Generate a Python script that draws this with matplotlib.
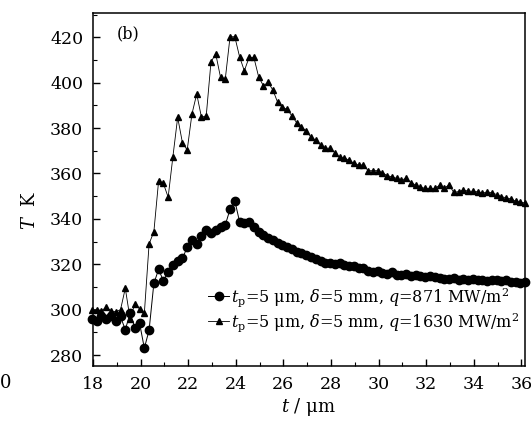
import matplotlib
matplotlib.use("Agg")
import matplotlib.pyplot as plt
from matplotlib.ticker import MultipleLocator

plt.rcParams["font.family"] = ["DejaVu Serif"]
plt.rcParams["mathtext.fontset"] = "dejavuserif"

# time axis shared by both runs
t = [17.96, 18.16, 18.36, 18.56, 18.76, 18.96, 19.16, 19.36, 19.56, 19.76,
     19.96, 20.16, 20.36, 20.56, 20.76, 20.96, 21.16, 21.36, 21.56, 21.76,
     21.96, 22.16, 22.36, 22.56, 22.76, 22.96, 23.16, 23.36, 23.56, 23.76,
     23.96, 24.16, 24.36, 24.56, 24.76, 24.96, 25.16, 25.36, 25.56, 25.76,
     25.96, 26.16, 26.36, 26.56, 26.76, 26.96, 27.16, 27.36, 27.56, 27.76,
     27.96, 28.16, 28.36, 28.56, 28.76, 28.96, 29.16, 29.36, 29.56, 29.76,
     29.96, 30.16, 30.36, 30.56, 30.76, 30.96, 31.16, 31.36, 31.56, 31.76,
     31.96, 32.16, 32.36, 32.56, 32.76, 32.96, 33.16, 33.36, 33.56, 33.76,
     33.96, 34.16, 34.36, 34.56, 34.76, 34.96, 35.16, 35.36, 35.56, 35.76,
     35.96, 36.16]

# q = 871 MW/m2 (circles)
T_871 = [296, 295, 297, 296, 297, 295, 297, 291, 298.6, 292,
         294, 283, 291, 311.6, 317.7, 312.7, 316.7, 319.6, 321.5, 322.6,
         327.4, 330.7, 328.9, 332.4, 335.1, 333.6, 335.1, 336.5, 337.3, 344.2,
         348, 338.7, 338.3, 338.7, 336.5, 334.3, 332.9, 331.5, 330.5, 329.5,
         328.5, 327.5, 326.5, 325.5, 324.8, 324, 323.2, 322.2, 321.3, 320.5,
         320.5, 320.3, 320.5, 319.8, 319.2, 319.4, 318.2, 318.5, 317, 316.6,
         316.8, 316.2, 315.8, 316.5, 315.4, 315.2, 315.6, 315, 315.2, 314.8,
         314.5, 314.6, 314.2, 314, 313.6, 313.5, 313.8, 313.1, 313.4, 313,
         313.3, 312.9, 313.2, 312.8, 313.1, 312.9, 312.6, 313, 312.3, 312.2,
         311.6, 312]

# q = 1630 MW/m2 (triangles)
T_1630 = [300, 300, 299.5, 301, 299.5, 299, 300, 309.4, 296, 302.5,
          300.3, 298.4, 329, 334.3, 356.8, 355.6, 349.5, 367.4, 384.7, 373.5,
          370.3, 386.2, 395, 384.7, 385.4, 409.2, 412.6, 402.3, 401.6, 420.2,
          420.2, 411.4, 405.2, 411.1, 411.1, 402.6, 398.6, 400.1, 396.7, 391.3,
          389.1, 388.2, 385.3, 382.3, 380.3, 378.8, 375.9, 374.7, 372.5, 371.1,
          371.1, 369.1, 367.1, 366.7, 365.9, 364.4, 363.7, 363.7, 361.2, 361.2,
          361.2, 360.3, 359, 358.5, 357.8, 357.1, 357.8, 355.9, 354.9, 353.9,
          353.4, 353.4, 353.4, 354.7, 353.6, 354.9, 351.6, 352, 352.7, 352.2,
          352.1, 351.9, 351.2, 351.9, 351.4, 350.7, 349.7, 349.3, 348.7, 347.8,
          347.3, 347]

labels = [r"$t_\mathrm{p}$=5 μm, $\delta$=5 mm, $q$=871 MW/m$^2$",
          r"$t_\mathrm{p}$=5 μm, $\delta$=5 mm, $q$=1630 MW/m$^2$"]

fig = plt.figure(figsize=(5.31, 4.24), dpi=100)
ax = fig.add_axes([0.175, 0.137, 0.8137, 0.832])

ax.plot(t, T_871, "-o", color="black", lw=0.7, ms=6, clip_on=False, label=labels[0])
ax.plot(t, T_1630, "-^", color="black", lw=0.6, ms=3.8, clip_on=False, label=labels[1])

ax.set_xlim(18, 36.15)
ax.set_ylim(275.2, 430.6)
ax.xaxis.set_major_locator(MultipleLocator(2))
ax.xaxis.set_minor_locator(MultipleLocator(1))
ax.yaxis.set_major_locator(MultipleLocator(20))
ax.yaxis.set_minor_locator(MultipleLocator(10))
ax.tick_params(which="both", direction="in", top=False, right=False, labelsize=12.5)
ax.tick_params(which="major", length=5, width=1, pad=7)
ax.tick_params(which="minor", length=3, width=0.8)
for s in ax.spines.values():
    s.set_linewidth(1.1)

ax.set_xlabel(r"$t$ / μm", fontsize=13)
ax.xaxis.set_label_coords(0.5, -0.085)
ax.set_ylabel(r"$T$  K", fontsize=13)
ax.yaxis.set_label_coords(-0.125, 0.44)
ax.text(0.055, 0.965, "(b)", transform=ax.transAxes, fontsize=11.5, va="top")

ax.legend(loc="lower right", bbox_to_anchor=(1.012, 0.06), frameon=False,
          fontsize=11.5, handlelength=1.3, handletextpad=0.1, labelspacing=0.15,
          borderpad=0.2)

# stray mark from the neighbouring panel of the scan
fig.text(0.0, 0.085, "0", fontsize=13)

fig.savefig("out.png", dpi=100)
